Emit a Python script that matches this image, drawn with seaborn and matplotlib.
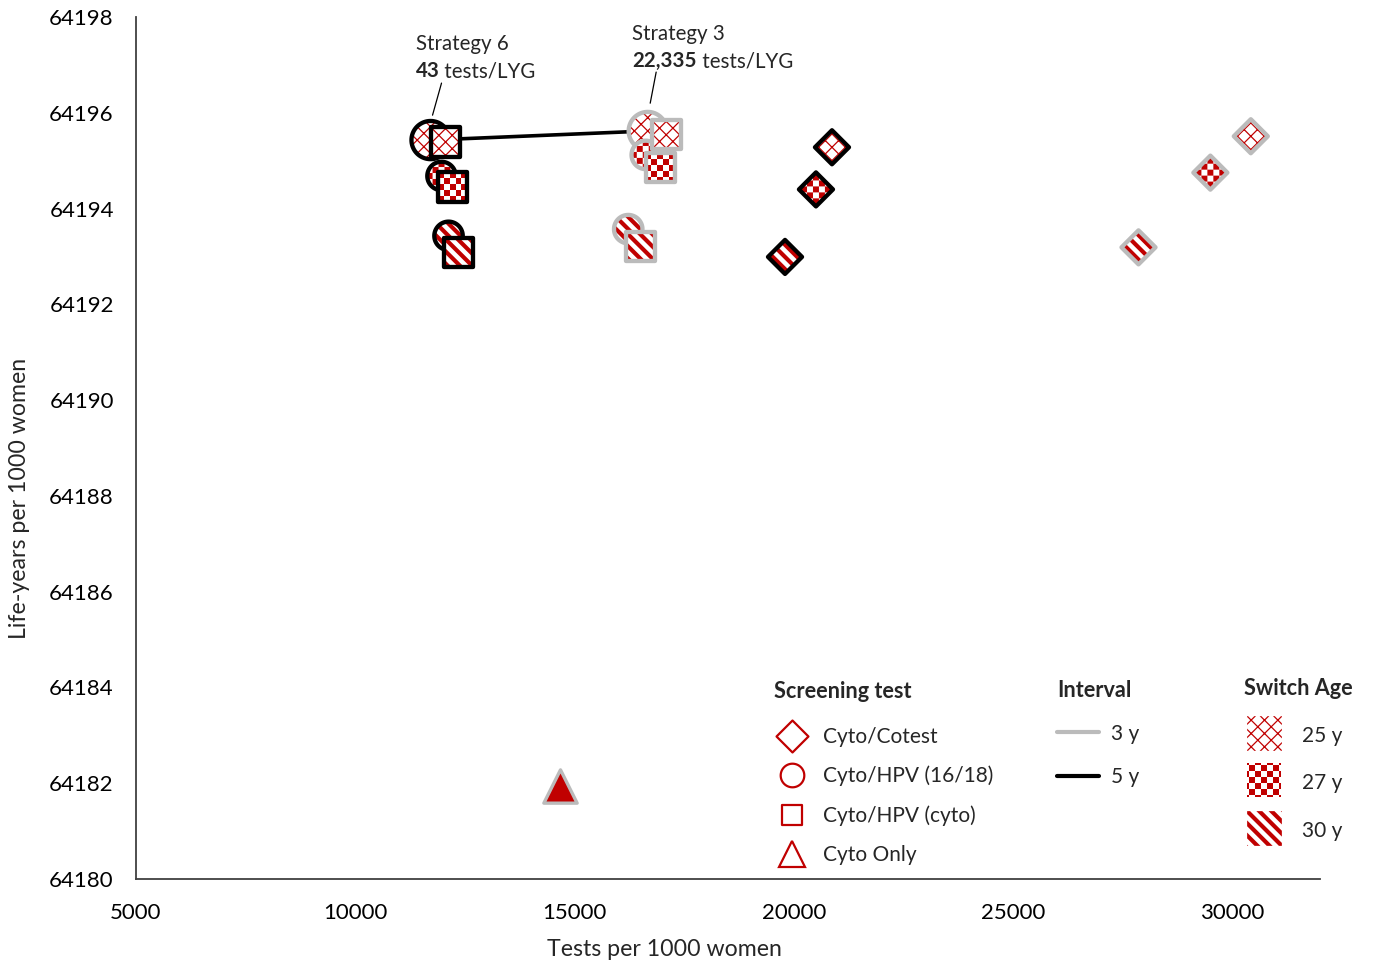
import numpy as np
import pandas as pd
import matplotlib
matplotlib.use("Agg")
import matplotlib.pyplot as plt
import seaborn as sns
from matplotlib.path import Path
from matplotlib.lines import Line2D

# ---------------- data ----------------
screening_test = (["Cyto/Cotest"] * 6 + ["Cyto/HPV (16/18)"] * 6 +
                  ["Cyto/HPV (cyto)"] * 6 + ["Cyto Only"])
interval_y = [5, 5, 5, 3, 3, 3] * 3 + [3]
switch_age = [25, 27, 30] * 6 + [0]
tests = [20871, 20506, 19800, 30422, 29500, 27861,
         11717, 11967, 12127, 16670, 16624, 16225,
         12059, 12218, 12355, 17091, 16954, 16510,
         14666]
life_years = [64195.28, 64194.40, 64192.99, 64195.51, 64194.75, 64193.19,
              64195.43, 64194.68, 64193.43, 64195.62, 64195.12, 64193.57,
              64195.39, 64194.45, 64193.09, 64195.54, 64194.85, 64193.20,
              64181.95]
frontier_idx = [6, 9]          # Strategy 6 -> Strategy 3
strategy_names = ["Strategy 6", "Strategy 3"]
strategy_values = ["43", "22,335"]
x_ticks = [5000, 10000, 15000, 20000, 25000, 30000]
y_ticks = list(range(64180, 64199, 2))
test_legend = ["Cyto/Cotest", "Cyto/HPV (16/18)", "Cyto/HPV (cyto)", "Cyto Only"]
interval_legend = ["3 y", "5 y"]
age_legend = ["25 y", "27 y", "30 y"]

df = pd.DataFrame({"test": screening_test, "interval": interval_y,
                   "age": switch_age, "tests": tests, "ly": life_years})

# ---------------- style ----------------
RED = "#C00000"
GRAY = "#BBBBBB"
BLACK = "#000000"
sns.set_style("white")
FONT = ["Lato", "DejaVu Sans"]
plt.rcParams["font.family"] = FONT
FS_TICK = 16
FS_LABEL = 16.7
FS_LEG = 15
FS_TITLE = 15.6
FS_ANN = 14.8

# ---------------- marker geometry ----------------
def shape_poly(shape):
    if shape == "square":
        return np.array([(-1, -1), (1, -1), (1, 1), (-1, 1)], float)
    if shape == "diamond":
        return np.array([(1, 0), (0, 1), (-1, 0), (0, -1)], float)
    t = np.linspace(0, 2 * np.pi, 73)[:-1]
    return np.column_stack([np.cos(t), np.sin(t)])


def poly_path(poly):
    verts = list(poly) + [poly[0]]
    codes = [Path.MOVETO] + [Path.LINETO] * (len(poly) - 1) + [Path.CLOSEPOLY]
    return Path(np.array(verts), codes)


def clip(subject, clipper):
    out = [np.asarray(p, float) for p in subject]
    n = len(clipper)
    for i in range(n):
        a = clipper[i]
        b = clipper[(i + 1) % n]
        inp, out = out, []
        if not inp:
            break
        def side(p):
            return (b[0] - a[0]) * (p[1] - a[1]) - (b[1] - a[1]) * (p[0] - a[0])
        s = inp[-1]
        for e in inp:
            ds, de = side(s), side(e)
            if de >= 0:
                if ds < 0:
                    out.append(s + ds / (ds - de) * (e - s))
                out.append(e)
            elif ds >= 0:
                out.append(s + ds / (ds - de) * (e - s))
            s = e
    return out


def ccw(poly):
    p = np.asarray(poly)
    a = 0.5 * np.sum(p[:, 0] * np.roll(p[:, 1], -1) - np.roll(p[:, 0], -1) * p[:, 1])
    return p if a >= 0 else p[::-1]


def stripes(normal, tangent, period, width, L, phase=0.0):
    n = np.array(normal) / np.linalg.norm(normal)
    t = np.array(tangent) / np.linalg.norm(tangent)
    polys = []
    k = int(L / period) + 2
    for i in range(-k, k + 1):
        u0 = i * period + phase
        pts = [u0 * n - L * t, (u0 + width) * n - L * t,
               (u0 + width) * n + L * t, u0 * n + L * t]
        polys.append(ccw(pts))
    return polys


def pattern_polys(pattern, half):
    """pattern polygons in points (screen aligned), covering +-half."""
    L = half * 1.6
    if pattern == 27:   # checkerboard
        c = 4.3
        m = int(half / c) + 2
        polys = []
        for i in range(-m, m + 1):
            for j in range(-m, m + 1):
                if (i + j) % 2 == 0:
                    x0, y0 = (i - 0.5) * c, (j - 0.5) * c
                    polys.append(np.array([(x0, y0), (x0 + c, y0),
                                           (x0 + c, y0 + c), (x0, y0 + c)]))
        return polys
    if pattern == 30:   # thick diagonal stripes "\"
        return stripes((1, 1), (1, -1), 6.2, 3.0, L, phase=-1.5)
    # 25: thin diagonal lattice
    lw = 0.9
    return (stripes((1, 1), (1, -1), 6.8, lw, L, phase=-lw / 2) +
            stripes((-1, 1), (1, 1), 6.8, lw, L, phase=-lw / 2))


def pattern_path(shape, ms, pattern, shrink=0.97):
    half = ms / 2.0
    clipper = shape_poly(shape) * half * shrink
    verts = [(1, 1), (1, 1), (1, 1)]
    codes = [Path.MOVETO, Path.LINETO, Path.CLOSEPOLY]
    for poly in pattern_polys(pattern, half):
        cp = clip(poly, clipper)
        if len(cp) >= 3:
            cp = np.array(cp) / half
            verts += list(cp) + [cp[0]]
            codes += [Path.MOVETO] + [Path.LINETO] * (len(cp) - 1) + [Path.CLOSEPOLY]
    return Path(np.array(verts, float), codes)


SHAPE = {"Cyto/Cotest": "diamond", "Cyto/HPV (16/18)": "circle",
         "Cyto/HPV (cyto)": "square"}
EW = 3.1

# ---------------- figure ----------------
fig = plt.figure(figsize=(13.74, 9.69), dpi=100)
ax = fig.add_axes([136 / 1374, 1 - 879 / 969, (1320 - 136) / 1374, (879 - 17) / 969])

# efficiency frontier line
fr = df.iloc[frontier_idx]
sns.lineplot(x=fr["tests"].values, y=fr["ly"].values, color=BLACK, lw=2.6,
             estimator=None, sort=False, zorder=2, ax=ax)

z = 3
for i, row in df.iterrows():
    edge = BLACK if row["interval"] == 5 else GRAY
    if row["test"] == "Cyto Only":
        sns.scatterplot(x=[row["tests"]], y=[row["ly"]], marker="^", s=24 ** 2,
                        color=RED, edgecolor=GRAY, linewidth=2.4, zorder=z, ax=ax,
                        legend=False)
        z += 1
        continue
    shape = SHAPE[row["test"]]
    if shape == "circle":
        ms = 27.5 if row["age"] == 25 else 20.5
    elif shape == "square":
        ms = 21.0
    else:
        ms = 24.5
    base = poly_path(shape_poly(shape))
    sns.scatterplot(x=[row["tests"]], y=[row["ly"]], marker=base, s=ms ** 2,
                    color="white", edgecolor="none", linewidth=0, zorder=z,
                    ax=ax, legend=False)
    sns.scatterplot(x=[row["tests"]], y=[row["ly"]],
                    marker=pattern_path(shape, ms, row["age"]), s=ms ** 2,
                    color=RED, edgecolor="none", linewidth=0, zorder=z + 0.1,
                    ax=ax, legend=False)
    sns.scatterplot(x=[row["tests"]], y=[row["ly"]], marker=base, s=ms ** 2,
                    color="none", edgecolor=edge, linewidth=EW, zorder=z + 0.2,
                    ax=ax, legend=False)
    z += 1

# ---------------- axes ----------------
ax.set_xlim(5000, 32000)
ax.set_ylim(64180, 64198)
ax.set_xticks(x_ticks)
ax.set_yticks(y_ticks)
ax.set_xticklabels([str(v) for v in x_ticks])
ax.set_yticklabels([str(v) for v in y_ticks])
for s in ["top", "right"]:
    ax.spines[s].set_visible(False)
for s in ["left", "bottom"]:
    ax.spines[s].set_color("#404040")
    ax.spines[s].set_linewidth(1.3)
ax.tick_params(axis="y", direction="out", length=6, width=1.1, color="#404040",
               pad=10, labelsize=FS_TICK, labelcolor="black")
ax.tick_params(axis="x", direction="out", length=4.5, width=1.1, color="#404040",
               pad=13, labelsize=FS_TICK, labelcolor="black")
ax.set_xlabel("Tests per 1000 women", fontsize=FS_LABEL)
ax.set_ylabel("Life-years per 1000 women", fontsize=FS_LABEL)
ax.xaxis.set_label_coords((664 - 136) / 1184, -(950 - 879) / 862)
ax.xaxis.label.set_va("center")
ax.yaxis.set_label_coords((20 - 136) / 1184, (879 - 498) / 862)
ax.yaxis.label.set_va("center")
ax.grid(False)

# ---------------- strategy annotations ----------------
ann_pos = [((11375, 64197.44), (11375, 64196.87), (11967, 64196.62), (11762, 64195.95)),
           ((16317, 64197.65), (16317, 64197.08), (16862, 64196.85), (16726, 64196.20))]
for name, val, (p1, p2, l1, l2) in zip(strategy_names, strategy_values, ann_pos):
    ax.text(p1[0], p1[1], name, fontsize=FS_ANN, va="center", ha="left")
    tb = ax.text(p2[0], p2[1], val, fontsize=FS_ANN, va="center", ha="left",
                 fontweight="bold")
    ax.annotate(" tests/LYG", xy=(1, 0.5), xycoords=tb, va="center", ha="left",
                fontsize=FS_ANN)
    ax.plot([l1[0], l2[0]], [l1[1], l2[1]], color=BLACK, lw=0.9, zorder=2)

# ---------------- legends ----------------
def fig_anchor(px, py):
    return (px / 1374, 1 - py / 969)


def make_legend(handles, labels, title, anchor, hl, htp, ls, title_sep, hh=0.7):
    leg = fig.legend(handles, labels, loc="upper left", bbox_to_anchor=fig_anchor(*anchor),
                     frameon=False, fontsize=FS_LEG, title=title,
                     title_fontproperties={"weight": "bold", "size": FS_TITLE},
                     alignment="left", borderpad=0, borderaxespad=0,
                     handlelength=hl, handletextpad=htp, labelspacing=ls,
                     handleheight=hh)
    leg._legend_box.sep = title_sep
    return leg


h1 = []
for shp, ms in [("diamond", 23), ("circle", 17), ("square", 15)]:
    h1.append(Line2D([], [], ls="none", marker=poly_path(shape_poly(shp)), ms=ms,
                     markerfacecolor="white", markeredgecolor=RED,
                     markeredgewidth=1.6))
h1.append(Line2D([], [], ls="none", marker="^", ms=19, markerfacecolor="white",
                 markeredgecolor=RED, markeredgewidth=1.6))
make_legend(h1, test_legend, "Screening test", (774, 681), 1.75, 0.6, 0.91, 17.9)

h2 = [Line2D([], [], color=GRAY, lw=3.0), Line2D([], [], color=BLACK, lw=3.0)]
make_legend(h2, interval_legend, "Interval", (1057, 680), 2.0, 0.6, 1.14, 16.3)

h3 = [Line2D([], [], ls="none", marker=pattern_path("square", 25, a, shrink=1.0),
             ms=25, markerfacecolor=RED, markeredgewidth=0) for a in (25, 27, 30)]
make_legend(h3, age_legend, "Switch Age", (1244, 678), 1.9, 0.9, 1.24, 17.9, hh=1.2)

fig.savefig("out.png", dpi=100, facecolor="white")
